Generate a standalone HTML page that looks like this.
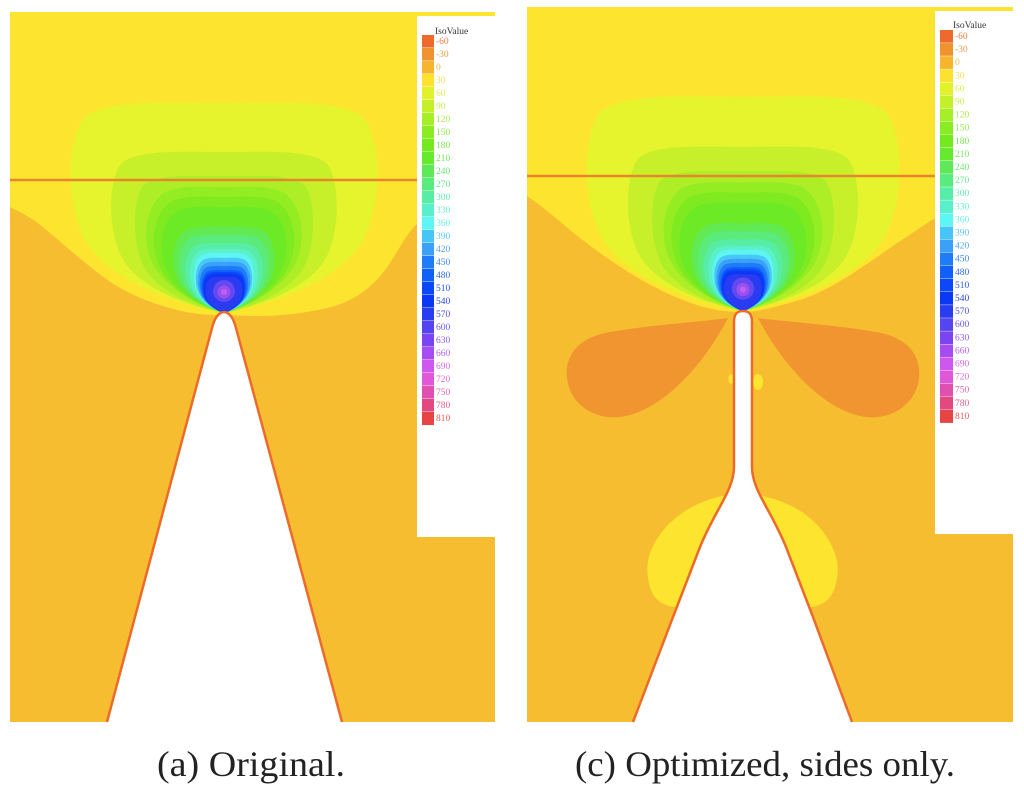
<!DOCTYPE html>
<html>
<head>
<meta charset="utf-8">
<style>
html,body{margin:0;padding:0;background:#fff;}
svg{display:block;}
</style>
</head>
<body>
<svg width="1024" height="794" viewBox="0 0 1024 794" xmlns="http://www.w3.org/2000/svg">
<defs>
<path id="egg" d="M0,0 C-0.3,-0.04 -0.75,-0.15 -0.9,-0.35 C-1.02,-0.52 -1.02,-0.82 -0.9,-0.93 C-0.75,-1.02 -0.35,-1 0,-1 C0.35,-1 0.75,-1.02 0.9,-0.93 C1.02,-0.82 1.02,-0.52 0.9,-0.35 C0.75,-0.15 0.3,-0.04 0,0 Z"/>
<path id="egg2" d="M0,0 C-0.3,-0.05 -0.8,-0.2 -0.93,-0.45 C-1.03,-0.65 -0.95,-0.9 -0.7,-0.97 C-0.45,-1.02 -0.2,-1 0,-1 C0.2,-1 0.45,-1.02 0.7,-0.97 C0.95,-0.9 1.03,-0.65 0.93,-0.45 C0.8,-0.2 0.3,-0.05 0,0 Z"/>
<g id="field">
<use href="#egg" transform="scale(155,210)" fill="#E5F42C"/>
<use href="#egg" transform="scale(114,161)" fill="#C8F02A"/>
<use href="#egg" transform="scale(90,137)" fill="#AEEE27"/>
<use href="#egg2" transform="scale(80,126)" fill="#94EC23"/>
<use href="#egg2" transform="scale(72,116)" fill="#7EEA1F"/>
<use href="#egg2" transform="scale(64,106)" fill="#6CEA26"/>
<use href="#egg2" transform="scale(52,86)" fill="#62EA52"/>
<use href="#egg2" transform="scale(46,78)" fill="#5AEB7C"/>
<use href="#egg2" transform="scale(40,70)" fill="#57EDA4"/>
<use href="#egg2" transform="scale(35,64)" fill="#5AF0CA"/>
<use href="#egg2" transform="scale(31,60)" fill="#5EF4F2"/>
<use href="#egg2" transform="scale(29,55)" fill="#48C8F6"/>
<use href="#egg2" transform="scale(27,51)" fill="#3AA0F8"/>
<use href="#egg2" transform="scale(25,47)" fill="#1E7CF8"/>
<use href="#egg2" transform="scale(23,43)" fill="#1060FA"/>
<use href="#egg2" transform="scale(22,41)" fill="#0A48FA"/>
<use href="#egg2" transform="scale(21,39)" fill="#0A38F4"/>
<use href="#egg2" transform="scale(19,36)" fill="#2A3CF2"/>
<ellipse cx="0" cy="-22" rx="11" ry="11" fill="#6448F0"/>
<ellipse cx="0" cy="-21" rx="6.5" ry="6.5" fill="#9A50F0"/>
<ellipse cx="0" cy="-21" rx="3" ry="3" fill="#C060F0"/>
</g>
</defs>

<!-- LEFT PANEL -->
<rect x="10" y="12" width="485" height="710" fill="#FDE52F"/>
<path d="M10,207 C20,212 28,216 35,221 C60,240 85,265 115,285 C145,303 185,315 216,315 L232,315 C270,318 305,314 335,306 C362,297 380,280 393,258 C402,244 408,232 417,224 L495,224 L495,722 L10,722 Z" fill="#F7BD31"/>
<use href="#field" transform="translate(224,313)"/>
<line x1="10" y1="180" x2="417" y2="180" stroke="#E9862C" stroke-width="2.6"/>
<path d="M107,722 L212,328 C215,316 220,312 224,312 C228,312 233,316 236,328 L342,722 Z" fill="#FFFFFF"/>
<path d="M107,722 L212,328 C215,316 220,312 224,312 C228,312 233,316 236,328 L342,722" fill="none" stroke="#EC6A2A" stroke-width="2.5"/>
<rect x="417" y="16" width="90" height="521" fill="#FFFFFF"/>

<!-- RIGHT PANEL -->
<rect x="527" y="7" width="486" height="715" fill="#FDE52F"/>
<path d="M527,196 C545,208 560,222 580,238 C615,265 655,292 700,306 C718,311 730,312 743,312 C758,312 775,307 800,300 C830,290 855,272 880,255 C900,241 918,229 935,218 L1013,218 L1013,722 L527,722 Z" fill="#F7BD31"/>
<use href="#field" transform="translate(743,311) scale(1.02)"/>
<!-- dark orange lobes -->
<path d="M728,318 C700,322 650,325 610,332 C575,338 565,358 567,378 C570,405 595,420 620,417 C660,412 702,368 728,318 Z" fill="#F09530"/>
<path d="M758,318 C786,322 836,325 876,332 C911,338 921,358 919,378 C916,405 891,420 866,417 C826,412 784,368 758,318 Z" fill="#F09530"/>
<ellipse cx="758" cy="382" rx="5" ry="8" fill="#FDE52F"/>
<ellipse cx="731" cy="379" rx="2.5" ry="5" fill="#FDE52F"/>
<!-- yellow blobs near flare -->
<path d="M738,494 C715,496 690,503 668,525 C652,542 645,560 648,578 C650,592 655,600 664,604 C672,608 682,608 692,608 L738,600 Z" fill="#FDE52F"/>
<path d="M748,494 C771,496 800,505 820,528 C834,545 840,562 837,578 C835,592 830,600 821,604 C813,608 804,608 794,608 L748,600 Z" fill="#FDE52F"/>
<line x1="527" y1="176" x2="935" y2="176" stroke="#E9862C" stroke-width="2.6"/>
<path d="M633,722 L673,617 L700,547 C715,510 734,490 734,467 L734,322 C734,313 738,311 743,311 C748,311 752,313 752,322 L752,467 C752,490 771,510 786,547 L813,617 L852,722 Z" fill="#FFFFFF"/>
<path d="M633,722 L673,617 L700,547 C715,510 734,490 734,467 L734,322 C734,313 738,311 743,311 C748,311 752,313 752,322 L752,467 C752,490 771,510 786,547 L813,617 L852,722" fill="none" stroke="#EC6A2A" stroke-width="2.5"/>
<rect x="935" y="11" width="89" height="523" fill="#FFFFFF"/>

<!-- LEFT LEGEND -->
<g font-family="'Liberation Serif', serif" font-size="9.5">
<text x="435" y="34" fill="#333">IsoValue</text>
<g>
<rect x="422" y="35" width="12" height="12.6" fill="#EE6A2C"/><text x="436" y="44" fill="#EE7A40">-60</text>
<rect x="422" y="48" width="12" height="12.6" fill="#F0922E"/><text x="436" y="57" fill="#F09A48">-30</text>
<rect x="422" y="61" width="12" height="12.6" fill="#F7B52E"/><text x="436" y="70" fill="#F7B848">0</text>
<rect x="422" y="74" width="12" height="12.6" fill="#FCE12E"/><text x="436" y="83" fill="#F8DE50">30</text>
<rect x="422" y="87" width="12" height="12.6" fill="#E2F22A"/><text x="436" y="96" fill="#DCEE50">60</text>
<rect x="422" y="100" width="12" height="12.6" fill="#C4F02A"/><text x="436" y="109" fill="#C4EE50">90</text>
<rect x="422" y="113" width="12" height="12.6" fill="#A6EE26"/><text x="436" y="122" fill="#A8EC50">120</text>
<rect x="422" y="126" width="12" height="12.6" fill="#8AEC22"/><text x="436" y="135" fill="#90EA50">150</text>
<rect x="422" y="139" width="12" height="12.6" fill="#72EA1E"/><text x="436" y="148" fill="#7CE850">180</text>
<rect x="422" y="152" width="12" height="12.6" fill="#66EA2E"/><text x="436" y="161" fill="#72E858">210</text>
<rect x="422" y="165" width="12" height="12.6" fill="#5EEA58"/><text x="436" y="174" fill="#6CE870">240</text>
<rect x="422" y="178" width="12" height="12.6" fill="#58EB7E"/><text x="436" y="187" fill="#68EA90">270</text>
<rect x="422" y="191" width="12" height="12.6" fill="#56EDA4"/><text x="436" y="200" fill="#66EAB0">300</text>
<rect x="422" y="204" width="12" height="12.6" fill="#58F0CA"/><text x="436" y="213" fill="#68EED0">330</text>
<rect x="422" y="217" width="12" height="12.6" fill="#5CF6F4"/><text x="436" y="226" fill="#6CF0F0">360</text>
<rect x="422" y="230" width="12" height="12.6" fill="#46C6F6"/><text x="436" y="239" fill="#5CC6F4">390</text>
<rect x="422" y="243" width="12" height="12.6" fill="#3AA0F8"/><text x="436" y="252" fill="#50A4F6">420</text>
<rect x="422" y="256" width="12" height="12.6" fill="#1E7CF8"/><text x="436" y="265" fill="#3C84F6">450</text>
<rect x="422" y="269" width="12" height="12.6" fill="#1060FA"/><text x="436" y="278" fill="#3068F6">480</text>
<rect x="422" y="282" width="12" height="12.6" fill="#0A48FA"/><text x="436" y="291" fill="#2A52F6">510</text>
<rect x="422" y="295" width="12" height="12.6" fill="#0A38F4"/><text x="436" y="304" fill="#2A46F2">540</text>
<rect x="422" y="308" width="12" height="12.6" fill="#2A3CF2"/><text x="436" y="317" fill="#4650F0">570</text>
<rect x="422" y="321" width="12" height="12.6" fill="#5444F2"/><text x="436" y="330" fill="#6A58F0">600</text>
<rect x="422" y="334" width="12" height="12.6" fill="#7A44F2"/><text x="436" y="343" fill="#8C5CF0">630</text>
<rect x="422" y="347" width="12" height="12.6" fill="#A64CF2"/><text x="436" y="356" fill="#B262F0">660</text>
<rect x="422" y="360" width="12" height="12.6" fill="#D056F0"/><text x="436" y="369" fill="#D46CEE">690</text>
<rect x="422" y="373" width="12" height="12.6" fill="#E058D8"/><text x="436" y="382" fill="#E06CD6">720</text>
<rect x="422" y="386" width="12" height="12.6" fill="#E050B0"/><text x="436" y="395" fill="#E064B4">750</text>
<rect x="422" y="399" width="12" height="12.6" fill="#E44880"/><text x="436" y="408" fill="#E45C8C">780</text>
<rect x="422" y="412" width="12" height="13" fill="#E84444"/><text x="436" y="421" fill="#E85858">810</text>
</g>
</g>

<!-- RIGHT LEGEND -->
<g font-family="'Liberation Serif', serif" font-size="9.5">
<text x="953" y="28" fill="#333">IsoValue</text>
<g>
<rect x="940" y="30" width="13" height="12.7" fill="#EE6A2C"/><text x="955" y="39" fill="#EE7A40">-60</text>
<rect x="940" y="43.1" width="13" height="12.7" fill="#F0922E"/><text x="955" y="52.1" fill="#F09A48">-30</text>
<rect x="940" y="56.2" width="13" height="12.7" fill="#F7B52E"/><text x="955" y="65.2" fill="#F7B848">0</text>
<rect x="940" y="69.3" width="13" height="12.7" fill="#FCE12E"/><text x="955" y="78.3" fill="#F8DE50">30</text>
<rect x="940" y="82.4" width="13" height="12.7" fill="#E2F22A"/><text x="955" y="91.4" fill="#DCEE50">60</text>
<rect x="940" y="95.5" width="13" height="12.7" fill="#C4F02A"/><text x="955" y="104.5" fill="#C4EE50">90</text>
<rect x="940" y="108.6" width="13" height="12.7" fill="#A6EE26"/><text x="955" y="117.6" fill="#A8EC50">120</text>
<rect x="940" y="121.7" width="13" height="12.7" fill="#8AEC22"/><text x="955" y="130.7" fill="#90EA50">150</text>
<rect x="940" y="134.8" width="13" height="12.7" fill="#72EA1E"/><text x="955" y="143.8" fill="#7CE850">180</text>
<rect x="940" y="147.9" width="13" height="12.7" fill="#66EA2E"/><text x="955" y="156.9" fill="#72E858">210</text>
<rect x="940" y="161" width="13" height="12.7" fill="#5EEA58"/><text x="955" y="170" fill="#6CE870">240</text>
<rect x="940" y="174.1" width="13" height="12.7" fill="#58EB7E"/><text x="955" y="183.1" fill="#68EA90">270</text>
<rect x="940" y="187.2" width="13" height="12.7" fill="#56EDA4"/><text x="955" y="196.2" fill="#66EAB0">300</text>
<rect x="940" y="200.3" width="13" height="12.7" fill="#58F0CA"/><text x="955" y="209.3" fill="#68EED0">330</text>
<rect x="940" y="213.4" width="13" height="12.7" fill="#5CF6F4"/><text x="955" y="222.4" fill="#6CF0F0">360</text>
<rect x="940" y="226.5" width="13" height="12.7" fill="#46C6F6"/><text x="955" y="235.5" fill="#5CC6F4">390</text>
<rect x="940" y="239.6" width="13" height="12.7" fill="#3AA0F8"/><text x="955" y="248.6" fill="#50A4F6">420</text>
<rect x="940" y="252.7" width="13" height="12.7" fill="#1E7CF8"/><text x="955" y="261.7" fill="#3C84F6">450</text>
<rect x="940" y="265.8" width="13" height="12.7" fill="#1060FA"/><text x="955" y="274.8" fill="#3068F6">480</text>
<rect x="940" y="278.9" width="13" height="12.7" fill="#0A48FA"/><text x="955" y="287.9" fill="#2A52F6">510</text>
<rect x="940" y="292" width="13" height="12.7" fill="#0A38F4"/><text x="955" y="301" fill="#2A46F2">540</text>
<rect x="940" y="305.1" width="13" height="12.7" fill="#2A3CF2"/><text x="955" y="314.1" fill="#4650F0">570</text>
<rect x="940" y="318.2" width="13" height="12.7" fill="#5444F2"/><text x="955" y="327.2" fill="#6A58F0">600</text>
<rect x="940" y="331.3" width="13" height="12.7" fill="#7A44F2"/><text x="955" y="340.3" fill="#8C5CF0">630</text>
<rect x="940" y="344.4" width="13" height="12.7" fill="#A64CF2"/><text x="955" y="353.4" fill="#B262F0">660</text>
<rect x="940" y="357.5" width="13" height="12.7" fill="#D056F0"/><text x="955" y="366.5" fill="#D46CEE">690</text>
<rect x="940" y="370.6" width="13" height="12.7" fill="#E058D8"/><text x="955" y="379.6" fill="#E06CD6">720</text>
<rect x="940" y="383.7" width="13" height="12.7" fill="#E050B0"/><text x="955" y="392.7" fill="#E064B4">750</text>
<rect x="940" y="396.8" width="13" height="12.7" fill="#E44880"/><text x="955" y="405.8" fill="#E45C8C">780</text>
<rect x="940" y="409.9" width="13" height="13" fill="#E84444"/><text x="955" y="418.9" fill="#E85858">810</text>
</g>
</g>

<!-- CAPTIONS -->
<text x="157" y="776" font-family="'Liberation Serif', serif" font-size="36" fill="#222" textLength="188" lengthAdjust="spacingAndGlyphs">(a) Original.</text>
<text x="575" y="776" font-family="'Liberation Serif', serif" font-size="36" fill="#222" textLength="380" lengthAdjust="spacingAndGlyphs">(c) Optimized, sides only.</text>
</svg>
</body>
</html>
